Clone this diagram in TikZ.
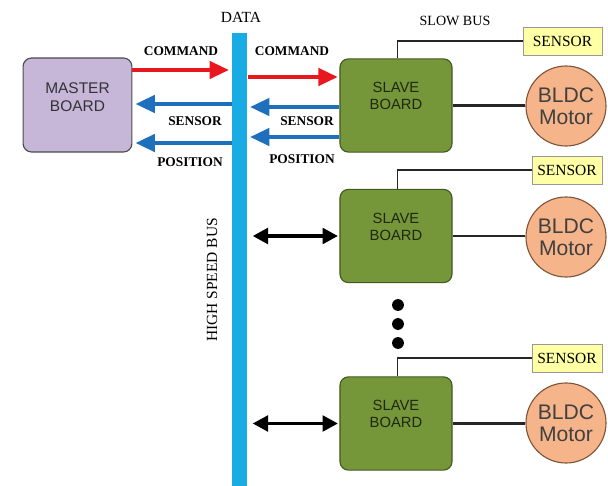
\documentclass[tikz,border=0pt]{standalone}
\usepackage{fontspec}
\setmainfont{Liberation Serif}
\newfontfamily\boardfont{Liberation Sans}
\usepackage{tikz}
\usetikzlibrary{arrows.meta}

\definecolor{busblue}{RGB}{25,172,228}
\definecolor{masterfill}{RGB}{198,182,216}
\definecolor{slavefill}{RGB}{118,150,58}
\definecolor{slaveline}{RGB}{68,88,34}
\definecolor{slavetext}{RGB}{30,40,16}
\definecolor{motorfill}{RGB}{246,180,138}
\definecolor{motorline}{RGB}{128,84,56}
\definecolor{sensorfill}{RGB}{255,255,165}
\definecolor{cmdred}{RGB}{232,24,30}
\definecolor{fbblue}{RGB}{30,112,188}

\begin{document}
\begin{tikzpicture}[x=0.025cm,y=-0.025cm,
  board/.style={draw=gray!60!black,thick,rounded corners=6pt,minimum width=2.8cm,minimum height=2.33cm},
  boardtxt/.style={font=\boardfont\fontsize{10.5}{12}\selectfont,align=center,text=black!80},
  master/.style={board,fill=masterfill,minimum width=2.72cm,minimum height=2.35cm},
  slave/.style={board,fill=slavefill,draw=slaveline},
  motor/.style={circle,draw=motorline,thick,fill=motorfill,minimum size=2cm,inner sep=0pt,
    font=\boardfont\fontsize{15}{16}\selectfont,align=center,text=black!75},
  sensorbox/.style={draw=gray!80,fill=sensorfill,minimum height=0.7cm,inner sep=0pt,
    font=\fontsize{11}{12}\selectfont},
  tag/.style={font=\bfseries\fontsize{9.5}{10}\selectfont},
  plain/.style={font=\fontsize{11}{12}\selectfont},
  cmd/.style={draw=cmdred,line width=3.5pt,-{Triangle[length=14pt,width=12pt]}},
  fb/.style={draw=fbblue,line width=3.5pt,-{Triangle[length=14pt,width=12pt]}},
  dbl/.style={line width=2.8pt,{Triangle[length=11pt,width=11pt]}-{Triangle[length=11pt,width=11pt]}},
  slowbus/.style={draw=black!85,line width=0.9pt},
  drive/.style={draw=black!85,line width=1.8pt}]
\useasboundingbox (0,0) rectangle (608,486);

\node[fill=busblue,minimum width=0.36cm,minimum height=11.35cm,inner sep=0pt] (bus) at (239.5,260) {};
\node[plain] (data) at (241,17) {DATA};
\node[plain,rotate=90] (hsb) at (212,280) {HIGH SPEED BUS};
\node[plain,font=\fontsize{10}{11}\selectfont] (slow) at (455,21) {SLOW BUS};

\node[master] (mb) at (77.5,105) {};
\node[boardtxt,font=\boardfont\fontsize{11}{12.5}\selectfont] (mbtxt) at ([yshift=0.2cm]mb.center) {MASTER\\BOARD};
\node[slave] (s1) at (396,105.5) {};
\node[slave] (s2) at (396,236) {};
\node[slave] (s3) at (396,423.5) {};

\node[motor] (m1) at (566,106) {BLDC\\Motor};
\node[motor] (m2) at (566,237) {BLDC\\Motor};
\node[motor] (m3) at (566,423) {BLDC\\Motor};

\node[sensorbox,minimum width=1.98cm] (sn1) at (562.5,41) {SENSOR};
\node[sensorbox,minimum width=1.75cm] (sn2) at (567,170) {SENSOR};
\node[sensorbox,minimum width=1.75cm] (sn3) at (567,358) {SENSOR};

\node[tag] (cmdl) at (181,51) {COMMAND};
\node[tag] (cmdr) at (292,51) {COMMAND};
\node[tag] (senl) at (195,121) {SENSOR};
\node[tag] (senr) at (307,121) {SENSOR};
\node[tag] (posl) at (190,162) {POSITION};
\node[tag] (posr) at (302,159) {POSITION};

\draw[cmd] (mb.east |- 0,70) -- ([xshift=-2pt]bus.west |- 0,70);
\draw[fb] (bus.west |- 0,104) -- ([xshift=2pt]mb.east |- 0,104);
\draw[fb] (bus.west |- 0,143) -- ([xshift=2pt]mb.east |- 0,143);
\draw[cmd] ([xshift=1pt]bus.east |- 0,77) -- ([xshift=-1pt]s1.west |- 0,77);
\draw[fb] (s1.west |- 0,107) -- ([xshift=2pt]bus.east |- 0,107);
\draw[fb] (s1.west |- 0,137) -- ([xshift=2pt]bus.east |- 0,137);

\draw[dbl] ([xshift=4pt]bus.east |- s2.west) -- ([xshift=-1pt]s2.west);
\draw[dbl] ([xshift=4pt]bus.east |- s3.west) -- ([xshift=-1pt]s3.west);

\foreach \s/\m/\n in {s1/m1/sn1,s2/m2/sn2,s3/m3/sn3}{
  \node[boardtxt,text=slavetext] (\s txt) at ([yshift=0.23cm]\s.center) {SLAVE\\BOARD};
  \draw[drive] (\s.east) -- (\s.east -| \m.west);
  \draw[slowbus] ([xshift=1pt]\s.north) |- (\n.west);
}

\foreach \y in {305,324,343}
  \fill (398,\y) circle (4.2pt);
\end{tikzpicture}
\end{document}
